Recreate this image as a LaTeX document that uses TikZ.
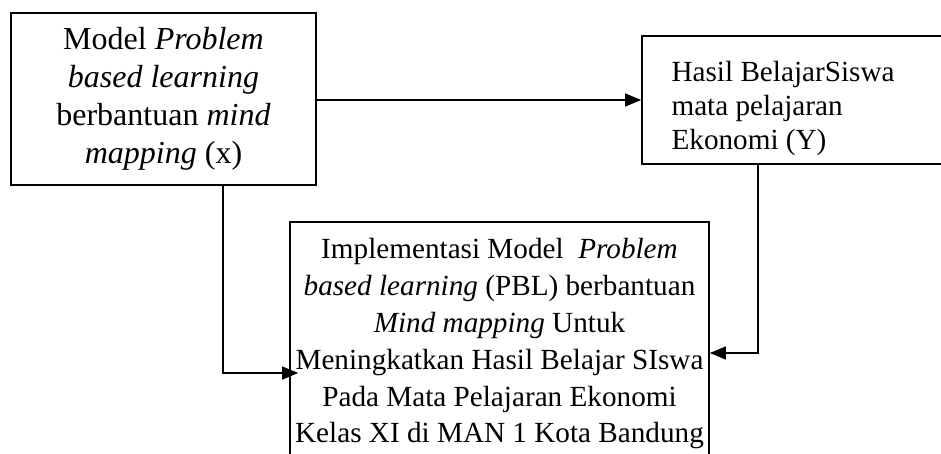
\documentclass[tikz,border=0pt]{standalone}
\usepackage{fontspec}
\setmainfont{Liberation Serif}
\usetikzlibrary{arrows.meta}

\begin{document}
\begin{tikzpicture}[x=0.5pt, y=0.5pt,
    box/.style={draw, line width=0.85pt, inner sep=0pt},
    arr/.style={line width=0.65pt, -{Triangle[length=8pt, width=6.5pt]}}]
% Fix the page size
\clip (0, 0) rectangle (941, 454);

% Draw the three boxes
\node[box, minimum width=152.5pt, minimum height=86pt, align=center,
      font=\fontsize{16}{19}\selectfont] (modelx) at (163.5, 355)
  {Model \textit{Problem}\\ \textit{based learning}\\ berbantuan \textit{mind}\\ \textit{mapping} (x)};
\node[box, minimum width=159pt, minimum height=64pt] (hasil) at (801, 354) {};
\node[anchor=north west, align=left, inner sep=0pt,
      font=\fontsize{14.6}{16.8}\selectfont] (hasiltext) at ([xshift=15pt, yshift=-13pt]hasil.north west)
  {Hasil BelajarSiswa\\ mata pelajaran\\ Ekonomi (Y)};
\node[box, minimum width=209.5pt, minimum height=122pt, align=center,
      font=\fontsize{14.6}{18.4}\selectfont] (impl) at (499.5, 110)
  {Implementasi Model~ \textit{Problem}\\ \textit{based learning} (PBL) berbantuan\\
   \textit{Mind mapping} Untuk\\ Meningkatkan Hasil Belajar SIswa\\
   Pada Mata Pelajaran Ekonomi\\ Kelas XI di MAN 1 Kota Bandung};

% Draw the connectors
\draw[arr] (modelx.east |- hasil.west) -- (hasil.west);
\draw[arr, shorten >=-4.5pt] ([xshift=29.75pt]modelx.south) |- ([yshift=-14.5pt]impl.west);
\draw[arr] ([xshift=-21.5pt]hasil.south) |- ([yshift=-4.5pt]impl.east);
\end{tikzpicture}
\end{document}
